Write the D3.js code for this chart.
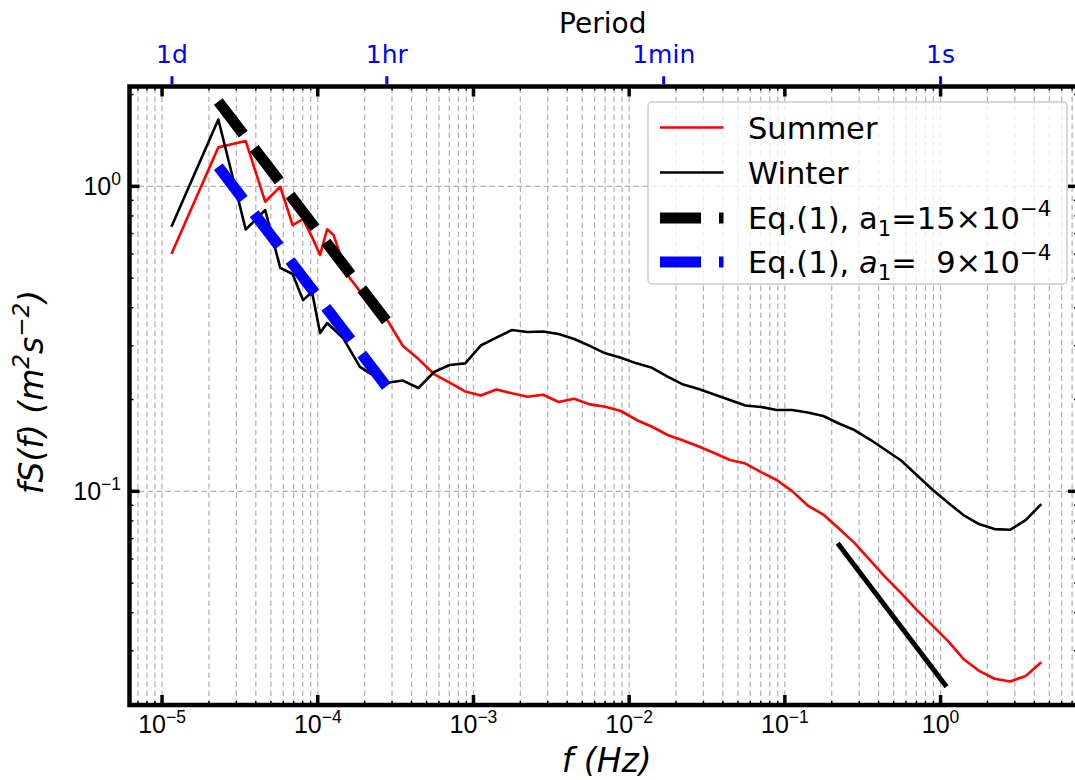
<!DOCTYPE html>
<html>
<head>
<meta charset="utf-8">
<script src="https://cdn.jsdelivr.net/npm/d3@7"></script>
<style>
  body { margin: 0; background: #fff; }
  svg { display: block; font-family: "DejaVu Sans", sans-serif; }
</style>
</head>
<body>
<svg id="chart" width="1075" height="780"></svg>
<script>
// Spectra: daily harmonics first, then 10 log bins per decade
const summerFreq = [1.157e-5, 2.315e-5, 3.472e-5, 4.630e-5, 5.787e-5, 6.944e-5, 8.102e-5, 9.259e-5, 1.042e-4, 1.157e-4, 1.273e-4,
  1.545e-4, 1.85e-4, 2.24e-4,
  2.818e-4, 3.548e-4, 4.467e-4, 5.623e-4, 7.079e-4, 8.913e-4, 1.122e-3, 1.413e-3, 1.778e-3, 2.239e-3,
  2.818e-3, 3.548e-3, 4.467e-3, 5.623e-3, 7.079e-3, 8.913e-3, 1.122e-2, 1.413e-2, 1.778e-2, 2.239e-2,
  2.818e-2, 3.548e-2, 4.467e-2, 5.623e-2, 7.079e-2, 8.913e-2, 0.1122, 0.1413, 0.1778, 0.2239,
  0.2818, 0.3548, 0.4467, 0.5623, 0.7079, 0.8913, 1.122, 1.413, 1.778, 2.239, 2.818, 3.548, 4.467];
const summerVal = [0.598, 1.337, 1.402, 0.887, 0.993, 0.744, 0.778, 0.679, 0.593, 0.720, 0.690,
  0.514, 0.456, 0.410,
  0.363, 0.2984, 0.2704, 0.2415, 0.2265, 0.2117, 0.2053, 0.2149, 0.2088, 0.2035,
  0.2066, 0.1955, 0.2004, 0.1921, 0.1887, 0.1827, 0.1707, 0.1622, 0.1524, 0.1462,
  0.1397, 0.1330, 0.1262, 0.1229, 0.1152, 0.1085, 0.0998, 0.0895, 0.0836, 0.0752,
  0.0675, 0.0593, 0.0520, 0.0462, 0.0407, 0.0362, 0.0322, 0.0281, 0.0257, 0.0242, 0.0237, 0.0247, 0.0274];

const winterFreq = [1.157e-5, 2.315e-5, 3.472e-5, 4.630e-5, 5.787e-5, 6.944e-5, 8.102e-5, 9.259e-5, 1.042e-4, 1.157e-4,
  1.47e-4, 1.88e-4, 2.18e-4,
  2.818e-4, 3.548e-4, 4.467e-4, 5.623e-4, 7.079e-4, 8.913e-4, 1.122e-3, 1.413e-3, 1.778e-3, 2.239e-3,
  2.818e-3, 3.548e-3, 4.467e-3, 5.623e-3, 7.079e-3, 8.913e-3, 1.122e-2, 1.413e-2, 1.778e-2, 2.239e-2,
  2.818e-2, 3.548e-2, 4.467e-2, 5.623e-2, 7.079e-2, 8.913e-2, 0.1122, 0.1413, 0.1778, 0.2239,
  0.2818, 0.3548, 0.4467, 0.5623, 0.7079, 0.8913, 1.122, 1.413, 1.778, 2.239, 2.818, 3.548, 4.467];
const winterVal = [0.734, 1.650, 0.719, 0.833, 0.538, 0.514, 0.422, 0.4485, 0.329, 0.355,
  0.316, 0.255, 0.2427,
  0.2262, 0.2299, 0.2173, 0.2452, 0.2586, 0.2618, 0.2995, 0.3181, 0.3367, 0.3317,
  0.3329, 0.3266, 0.3145, 0.2988, 0.2824, 0.2732, 0.2618, 0.2531, 0.2369, 0.2231,
  0.2157, 0.2069, 0.1985, 0.1904, 0.1883, 0.1840, 0.1840, 0.1806, 0.1759, 0.1662,
  0.1582, 0.1473, 0.1361, 0.1257, 0.1127, 0.1010, 0.0915, 0.0833, 0.0778, 0.0749, 0.0745, 0.0802, 0.0905];

// Eq.(1) reference lines (end points) and the high-frequency slope segment
const eqFreq = [2.315e-5, 2.778e-4];
const eqHigh = [1.89, 0.361];
const eqLow = [1.155, 0.220];
const slopeFreq = [0.22, 1.1];
const slopeVal = [0.0673, 0.0228];

// Secondary (period) axis
const periodFreq = [1 / 86400, 1 / 3600, 1 / 60, 1];
const periodLabels = ['1d', '1hr', '1min', '1s'];

const L = 129.5, R = 1078, T = 86.5, B = 705;
const x = d3.scaleLog().domain([6.223e-6, 7.691]).range([L, R]);
const y = d3.scaleLog().domain([0.01985, 2.117]).range([B, T]);

const isDecade = d => Math.abs(Math.log10(d) - Math.round(Math.log10(d))) < 1e-6;
const xTicks = x.ticks();
const xMajor = xTicks.filter(isDecade), xMinor = xTicks.filter(d => !isDecade(d));
const yTicks = y.ticks();
const yMajor = yTicks.filter(isDecade), yMinor = yTicks.filter(d => !isDecade(d));

const svg = d3.select('#chart');

// text with sub/superscripts
function richText(sel, parts, fs) {
  let shift = 0;
  parts.forEach(p => {
    const target = p.sup ? -0.42 * fs : p.sub ? 0.22 * fs : 0;
    const t = sel.append('tspan').attr('dy', target - shift).text(p.t);
    if (p.sup || p.sub) t.attr('font-size', fs * 0.7);
    if (p.it) t.attr('font-style', 'italic');
    shift = target;
  });
}
const pow10 = d => {
  const e = Math.round(Math.log10(d));
  return [{ t: '10' }, { t: e < 0 ? '\u2212' + (-e) : String(e), sup: true }];
};

// Grid
const gridStyle = g => {
  g.select('.domain').remove();
  g.selectAll('.tick line').attr('stroke', '#b0b0b0').attr('stroke-width', 1.2).attr('stroke-dasharray', '5.5,3.5');
};
svg.append('g').attr('transform', `translate(0,${B})`)
  .call(d3.axisBottom(x).tickValues(xTicks).tickSize(-(B - T)).tickFormat(''))
  .call(gridStyle);
svg.append('g').attr('transform', `translate(${L},0)`)
  .call(d3.axisLeft(y).tickValues(yMajor).tickSize(-(R - L)).tickFormat(''))
  .call(gridStyle);

// Curves
const plot = svg.append('g');
svg.append('clipPath').attr('id', 'clip').append('rect')
  .attr('x', L).attr('y', T).attr('width', R - L).attr('height', B - T);
plot.attr('clip-path', 'url(#clip)');
const line = d3.line().x(d => x(d[0])).y(d => y(d[1]));

plot.append('path').datum(d3.zip(summerFreq, summerVal)).attr('d', line)
  .attr('fill', 'none').attr('stroke', '#ff0000').attr('stroke-width', 2.6).attr('stroke-linejoin', 'round');
plot.append('path').datum(d3.zip(winterFreq, winterVal)).attr('d', line)
  .attr('fill', 'none').attr('stroke', '#000').attr('stroke-width', 2.6).attr('stroke-linejoin', 'round');
plot.append('path').datum(d3.zip(eqFreq, eqHigh)).attr('d', line)
  .attr('fill', 'none').attr('stroke', '#000').attr('stroke-width', 11).attr('stroke-dasharray', '41,18');
plot.append('path').datum(d3.zip(eqFreq, eqLow)).attr('d', line)
  .attr('fill', 'none').attr('stroke', '#0000ff').attr('stroke-width', 11).attr('stroke-dasharray', '41,18');
plot.append('path').datum(d3.zip(slopeFreq, slopeVal)).attr('d', line)
  .attr('fill', 'none').attr('stroke', '#000').attr('stroke-width', 5);

// Ticks (inward, all four sides)
const tickStyle = (g, w) => {
  g.select('.domain').remove();
  g.selectAll('.tick line').attr('stroke', '#000').attr('stroke-width', w);
};
const axB = svg.append('g').attr('transform', `translate(0,${B})`)
  .call(d3.axisBottom(x).tickValues(xMajor).tickSize(-10).tickFormat('')).call(tickStyle, 3.5);
svg.append('g').attr('transform', `translate(0,${B})`)
  .call(d3.axisBottom(x).tickValues(xMinor).tickSize(-4).tickFormat('')).call(tickStyle, 1.4);
svg.append('g').attr('transform', `translate(0,${T})`)
  .call(d3.axisTop(x).tickValues(xMajor).tickSize(-10).tickFormat('')).call(tickStyle, 3.5);
svg.append('g').attr('transform', `translate(0,${T})`)
  .call(d3.axisTop(x).tickValues(xMinor).tickSize(-4).tickFormat('')).call(tickStyle, 1.4);
const axL = svg.append('g').attr('transform', `translate(${L},0)`)
  .call(d3.axisLeft(y).tickValues(yMajor).tickSize(-10).tickFormat('')).call(tickStyle, 3.5);
svg.append('g').attr('transform', `translate(${L},0)`)
  .call(d3.axisLeft(y).tickValues(yMinor).tickSize(-4).tickFormat('')).call(tickStyle, 1.4);
svg.append('g').attr('transform', `translate(${R},0)`)
  .call(d3.axisRight(y).tickValues(yMajor).tickSize(-10).tickFormat('')).call(tickStyle, 3.5);
svg.append('g').attr('transform', `translate(${R},0)`)
  .call(d3.axisRight(y).tickValues(yMinor).tickSize(-4).tickFormat('')).call(tickStyle, 1.4);

// Tick labels
axB.selectAll('.tick').append('text')
  .attr('y', 733 - B).attr('text-anchor', 'middle').attr('font-size', 25).attr('fill', '#000')
  .each(function (d) { richText(d3.select(this), pow10(d), 25); });
axL.selectAll('.tick').append('text')
  .attr('x', 121 - L).attr('y', 9).attr('text-anchor', 'end').attr('font-size', 25).attr('fill', '#000')
  .each(function (d) { richText(d3.select(this), pow10(d), 25); });

// Period axis on top
const axTop = svg.append('g').attr('transform', `translate(0,${T - 2.25})`)
  .call(d3.axisTop(x).tickValues(periodFreq).tickSize(8).tickFormat((d, i) => periodLabels[i]));
axTop.select('.domain').remove();
axTop.selectAll('.tick line').attr('stroke', '#0000ff').attr('stroke-width', 3);
axTop.selectAll('.tick text').attr('y', 63 - (T - 2.25)).attr('dy', 0)
  .attr('fill', '#0000ff').attr('font-size', 25).attr('font-family', '"DejaVu Sans", sans-serif');

// Frame
svg.append('rect').attr('x', L).attr('y', T).attr('width', R - L).attr('height', B - T)
  .attr('fill', 'none').attr('stroke', '#000').attr('stroke-width', 4.5);

// Axis titles
svg.append('text').attr('x', (L + R) / 2 - 1).attr('y', 33).attr('text-anchor', 'middle')
  .attr('font-size', 28).text('Period');
const xl = svg.append('text').attr('x', (L + R) / 2 + 3).attr('y', 772).attr('text-anchor', 'middle')
  .attr('font-size', 33).attr('font-style', 'italic');
richText(xl, [{ t: 'f (Hz)' }], 33);
const yl = svg.append('text').attr('transform', 'translate(43,392) rotate(-90)').attr('text-anchor', 'middle')
  .attr('font-size', 33).attr('font-style', 'italic');
richText(yl, [{ t: 'fS(f) (m' }, { t: '2', sup: true }, { t: 's' }, { t: '\u22122', sup: true }, { t: ')' }], 33);

// Legend
const legend = svg.append('g');
legend.append('rect').attr('x', 648).attr('y', 102).attr('width', 419).attr('height', 182)
  .attr('rx', 4).attr('fill', 'rgba(255,255,255,0.8)').attr('stroke', '#cccccc').attr('stroke-width', 1.5);
const legendRows = [
  { y: 127.5, color: '#ff0000', width: 2.6, dash: null, parts: [{ t: 'Summer' }] },
  { y: 172.5, color: '#000', width: 2.6, dash: null, parts: [{ t: 'Winter' }] },
  { y: 218, color: '#000', width: 11, dash: '41,18',
    parts: [{ t: 'Eq.(1), a' }, { t: '1', sub: true }, { t: '=15\u00d710' }, { t: '\u22124', sup: true }] },
  { y: 262, color: '#0000ff', width: 11, dash: '41,18',
    parts: [{ t: 'Eq.(1), ' }, { t: 'a', it: true }, { t: '1', sub: true }, { t: '=  9\u00d710' }, { t: '\u22124', sup: true }] }
];
legendRows.forEach(r => {
  legend.append('line').attr('x1', 660).attr('x2', 723.5).attr('y1', r.y).attr('y2', r.y)
    .attr('stroke', r.color).attr('stroke-width', r.width).attr('stroke-dasharray', r.dash);
  const t = legend.append('text').attr('x', 748).attr('y', r.y + 11).attr('font-size', 30.5)
    .style('white-space', 'pre');
  richText(t, r.parts, 30.5);
});
</script>
</body>
</html>
